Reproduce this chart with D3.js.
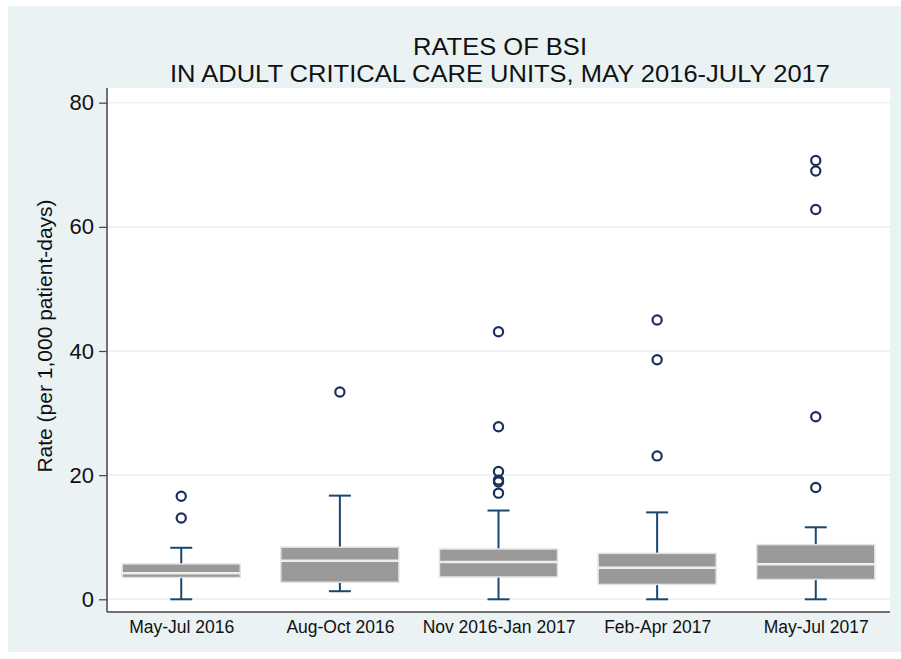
<!DOCTYPE html>
<html>
<head>
<meta charset="utf-8">
<script src="https://cdn.jsdelivr.net/npm/d3@7"></script>
<style>
  html, body { margin: 0; padding: 0; background: #ffffff; }
  svg { display: block; font-family: "Liberation Sans", Arial, sans-serif; }
</style>
</head>
<body>
<svg id="chart" width="901" height="659"></svg>
<script>
// Quarterly BSI rates per unit, summarised as box plots
const categories = ["May-Jul 2016", "Aug-Oct 2016", "Nov 2016-Jan 2017", "Feb-Apr 2017", "May-Jul 2017"];
const lowerWhisker = [0, 1.3, 0, 0, 0];
const q1 = [3.5, 2.75, 3.6, 2.4, 3.2];
const median = [4.2, 6.2, 6.0, 5.1, 5.65];
const q3 = [5.7, 8.4, 8.1, 7.4, 8.8];
const upperWhisker = [8.3, 16.7, 14.3, 14.0, 11.6];
const outliers = [
  [13.1, 16.6],
  [33.4],
  [17.1, 18.9, 19.2, 20.6, 27.8, 43.1],
  [23.1, 38.6, 45.0],
  [18.0, 29.4, 62.8, 69.0, 70.7]
];
const yTicks = [0, 20, 40, 60, 80];
const titleLines = ["RATES OF BSI", "IN ADULT CRITICAL CARE UNITS, MAY 2016-JULY 2017"];
const titleWidths = [174, 660];
const yTitle = "Rate (per 1,000 patient-days)";

const svg = d3.select("#chart");
const W = 901, H = 659;
const outer = { x: 8, y: 6, w: W - 8, h: 646 };
const plot = { left: 107, right: 890, top: 88, bottom: 612 };

const navy = "#1a476f";
const dotColor = "#1c2e5c";
const bg = "#eaf2f3";

// outer graph region
svg.append("rect")
  .attr("x", outer.x).attr("y", outer.y)
  .attr("width", outer.w).attr("height", outer.h)
  .attr("fill", bg);

// plot region
svg.append("rect")
  .attr("x", plot.left).attr("y", plot.top)
  .attr("width", plot.right - plot.left).attr("height", plot.bottom - plot.top)
  .attr("fill", "#ffffff");

const x = d3.scalePoint()
  .domain(categories)
  .range([plot.left, plot.right])
  .padding(0.468);

const y = d3.scaleLinear()
  .domain([0, 80])
  .range([599.3, 102.7]);

const step = x.step();
const boxW = step * 0.744;
const capW = 22;

// gridlines
svg.append("g")
  .selectAll("line")
  .data(yTicks)
  .join("line")
  .attr("x1", plot.left).attr("x2", plot.right)
  .attr("y1", d => y(d)).attr("y2", d => y(d))
  .attr("stroke", bg).attr("stroke-width", 1.6);

// y axis
const yAxis = svg.append("g")
  .attr("transform", `translate(${plot.left},0)`)
  .call(d3.axisLeft(y).tickValues(yTicks).tickSize(8).tickPadding(5).tickSizeOuter(0));
yAxis.select(".domain").remove();
yAxis.selectAll(".tick line").attr("stroke", "#444").attr("stroke-width", 1.2);
yAxis.selectAll(".tick text")
  .attr("font-size", 22)
  .attr("font-family", "Liberation Sans, Arial, sans-serif")
  .attr("fill", "#111");
svg.append("line")
  .attr("x1", plot.left).attr("x2", plot.left)
  .attr("y1", plot.top).attr("y2", plot.bottom)
  .attr("stroke", "#444").attr("stroke-width", 1.5);

// x axis
const xAxis = svg.append("g")
  .attr("transform", `translate(0,${plot.bottom})`)
  .call(d3.axisBottom(x).tickSize(0).tickPadding(9));
xAxis.select(".domain").remove();
xAxis.selectAll(".tick text")
  .attr("font-size", 17.5)
  .attr("font-family", "Liberation Sans, Arial, sans-serif")
  .attr("fill", "#111");
svg.append("line")
  .attr("x1", plot.left).attr("x2", plot.right)
  .attr("y1", plot.bottom).attr("y2", plot.bottom)
  .attr("stroke", "#444").attr("stroke-width", 1.5);

// box plots
const groups = svg.append("g")
  .selectAll("g")
  .data(categories.map((c, i) => ({
    c, lo: lowerWhisker[i], q1: q1[i], med: median[i], q3: q3[i], hi: upperWhisker[i], out: outliers[i]
  })))
  .join("g");

// whiskers
groups.append("line")
  .attr("x1", d => x(d.c)).attr("x2", d => x(d.c))
  .attr("y1", d => y(d.q3)).attr("y2", d => y(d.hi))
  .attr("stroke", navy).attr("stroke-width", 2);
groups.append("line")
  .attr("x1", d => x(d.c)).attr("x2", d => x(d.c))
  .attr("y1", d => y(d.q1)).attr("y2", d => y(d.lo))
  .attr("stroke", navy).attr("stroke-width", 2);
groups.append("line")
  .attr("x1", d => x(d.c) - capW / 2).attr("x2", d => x(d.c) + capW / 2)
  .attr("y1", d => y(d.hi)).attr("y2", d => y(d.hi))
  .attr("stroke", navy).attr("stroke-width", 2);
groups.append("line")
  .attr("x1", d => x(d.c) - capW / 2).attr("x2", d => x(d.c) + capW / 2)
  .attr("y1", d => y(d.lo)).attr("y2", d => y(d.lo))
  .attr("stroke", navy).attr("stroke-width", 2);

// boxes
groups.append("rect")
  .attr("x", d => x(d.c) - boxW / 2)
  .attr("y", d => y(d.q3))
  .attr("width", boxW)
  .attr("height", d => y(d.q1) - y(d.q3))
  .attr("fill", "#999999")
  .attr("stroke", "#e2e2e2").attr("stroke-width", 1.5);

// medians
groups.append("line")
  .attr("x1", d => x(d.c) - boxW / 2).attr("x2", d => x(d.c) + boxW / 2)
  .attr("y1", d => y(d.med)).attr("y2", d => y(d.med))
  .attr("stroke", "#eeeeee").attr("stroke-width", 2.5);

// outside values
groups.selectAll("circle")
  .data(d => d.out.map(v => ({ c: d.c, v })))
  .join("circle")
  .attr("cx", d => x(d.c))
  .attr("cy", d => y(d.v))
  .attr("r", 4.6)
  .attr("fill", "none")
  .attr("stroke", dotColor)
  .attr("stroke-width", 2.2);

// titles
svg.append("g")
  .selectAll("text")
  .data(titleLines)
  .join("text")
  .attr("x", 500)
  .attr("y", (d, i) => 55 + i * 26.5)
  .attr("text-anchor", "middle")
  .attr("font-size", 23)
  .attr("textLength", (d, i) => titleWidths[i])
  .attr("lengthAdjust", "spacingAndGlyphs")
  .attr("fill", "#111")
  .text(d => d);

svg.append("text")
  .attr("transform", `translate(52,${(plot.top + plot.bottom) / 2 - 14}) rotate(-90)`)
  .attr("text-anchor", "middle")
  .attr("font-size", 21)
  .attr("fill", "#111")
  .text(yTitle);
</script>
</body>
</html>
